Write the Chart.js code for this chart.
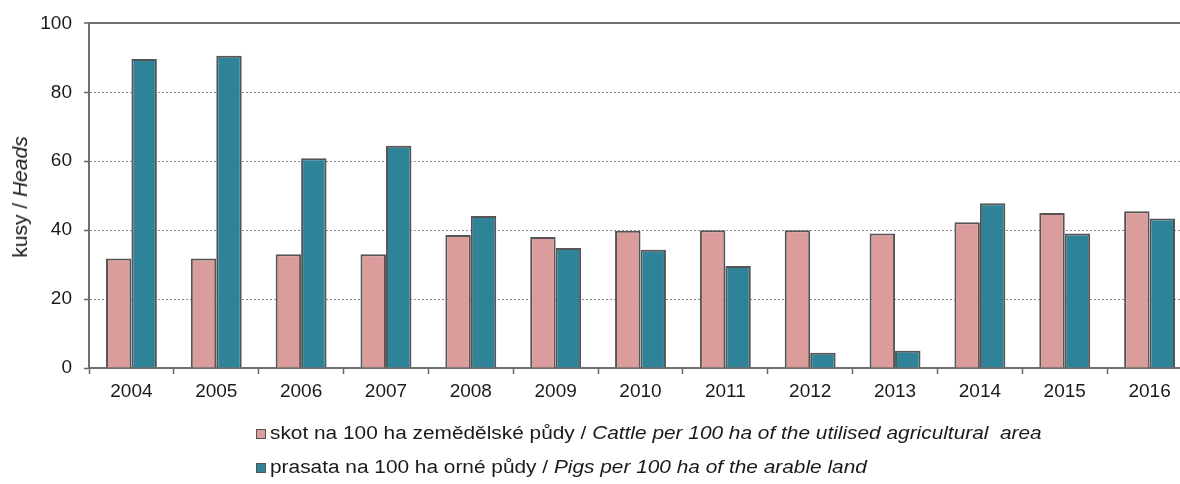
<!DOCTYPE html>
<html>
<head>
    <meta charset="UTF-8">
    <title>Skot a prasata</title>
    <script src="https://cdn.jsdelivr.net/npm/chart.js"></script>
    <style>
        html, body {
            margin: 0;
            padding: 0;
            background: #fff;
            overflow: hidden;
        }
        #wrap {
            position: relative;
            width: 1180px;
            height: 484px;
            overflow: hidden;
            font-family: "Liberation Sans", Arial, sans-serif;
            color: #1a1a1a;
        }
        #chart {
            position: absolute;
            left: 0;
            top: 0;
        }
        .ytitle {
            position: absolute;
            left: 20px;
            top: 197px;
            transform: translate(-50%, -50%) rotate(-90deg);
            font-size: 21px;
            white-space: nowrap;
        }
        .box {
            position: absolute;
            width: 10px;
            height: 10px;
            box-sizing: border-box;
            border: 1px solid #555;
        }
        .ltext {
            position: absolute;
            left: 270px;
            font-size: 18px;
            line-height: 18px;
            white-space: nowrap;
            transform: scaleX(1.158);
            transform-origin: 0 0;
        }
        i { font-style: italic; }
    </style>
</head>
<body>
    <div id="wrap">
        <canvas id="chart" width="1194" height="484"></canvas>
        <div class="ytitle">kusy / <i>Heads</i></div>
        <span class="box" style="left:256px; top:429px; background:#db9c9c"></span>
        <div class="ltext" style="top:424px">skot na 100 ha zemědělské půdy / <i>Cattle per 100 ha of the utilised agricultural&nbsp; area</i></div>
        <span class="box" style="left:256px; top:463px; background:#2e8399"></span>
        <div class="ltext" style="top:458px">prasata na 100 ha orné půdy / <i>Pigs per 100 ha of the arable land</i></div>
    </div>

    <script>
        const years = ['2004', '2005', '2006', '2007', '2008', '2009', '2010', '2011', '2012', '2013', '2014', '2015', '2016'];
        const cattle = [31.8, 31.8, 33.0, 33.0, 38.6, 38.0, 39.8, 40.0, 40.0, 39.0, 42.3, 45.0, 45.5];
        const pigs = [89.7, 90.6, 60.9, 64.5, 44.1, 34.8, 34.3, 29.6, 4.4, 5.0, 47.8, 39.0, 43.4];
        const yTicks = [0, 20, 40, 60, 80, 100];

        const tickFont = { family: '"Liberation Sans", Arial, sans-serif', size: 19 };

        const chart = new Chart(document.getElementById('chart'), {
            type: 'bar',
            data: {
                labels: years,
                datasets: [
                    {
                        label: 'skot na 100 ha zemědělské půdy / Cattle per 100 ha of the utilised agricultural area',
                        data: cattle,
                        backgroundColor: '#db9c9c',
                        borderColor: '#555',
                        borderWidth: 2
                    },
                    {
                        label: 'prasata na 100 ha orné půdy / Pigs per 100 ha of the arable land',
                        data: pigs,
                        backgroundColor: '#2e8399',
                        borderColor: '#555',
                        borderWidth: 2
                    }
                ]
            },
            options: {
                responsive: false,
                animation: false,
                layout: { padding: { top: 21, right: 2, left: 0, bottom: 0 } },
                datasets: { bar: { categoryPercentage: 0.6, barPercentage: 1.0 } },
                plugins: {
                    legend: { display: false },
                    tooltip: { enabled: false }
                },
                scales: {
                    x: {
                        afterFit: s => { s.height = 116; },
                        grid: {
                            offset: true,
                            drawOnChartArea: false,
                            tickLength: 6,
                            tickColor: '#666',
                            tickWidth: 1.5
                        },
                        border: { color: '#707070', width: 2 },
                        ticks: { font: tickFont, color: '#1a1a1a', padding: 6, maxRotation: 0 }
                    },
                    y: {
                        min: 0,
                        max: 100,
                        afterFit: s => { s.width = 89; },
                        afterBuildTicks: s => { s.ticks = yTicks.map(v => ({ value: v })); },
                        grid: {
                            color: c => (c.tick && c.tick.value === 100) ? '#707070' : '#8c8c8c',
                            lineWidth: c => (c.tick && c.tick.value === 100) ? 2 : 1,
                            tickLength: 5,
                            tickColor: '#666',
                            tickWidth: 1.5,
                            tickBorderDash: []
                        },
                        border: {
                            color: '#707070',
                            width: 2,
                            dash: c => (c.tick && c.tick.value === 100) ? [] : [2, 2]
                        },
                        ticks: { font: tickFont, color: '#1a1a1a', padding: 12 }
                    }
                }
            }
        });
    </script>
</body>
</html>
